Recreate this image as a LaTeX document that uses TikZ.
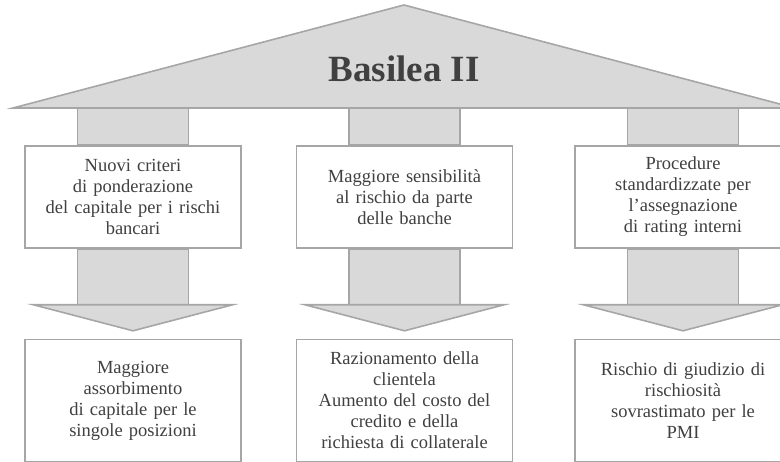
\documentclass[tikz,border=0pt]{standalone}
\usepackage{fontspec}
\setmainfont{Liberation Serif}
\usepackage{tikz}
\usetikzlibrary{positioning, calc, backgrounds}
\usepackage{xcolor}
\definecolor{pillarfill}{HTML}{D9D9D9}
\definecolor{pillarline}{HTML}{A6A6A6}
\definecolor{txtgray}{HTML}{404040}

\begin{document}
\begin{tikzpicture}[
    x=1pt, y=-1pt,
    node distance=90pt,
    box/.style={rectangle, draw=pillarline, fill=white, line width=1.6pt, minimum width=216pt, minimum height=102pt, text width=210pt, inner sep=0pt, align=center, text=txtgray, font=\fontsize{18.5}{21}\selectfont},
    effect/.style={box, minimum height=122pt},
    shaft/.style={draw=pillarline, fill=pillarfill, line width=1.6pt, line join=miter},
    title/.style={text=txtgray, font=\bfseries\fontsize{37}{40}\selectfont}]
\useasboundingbox (0,0) rectangle (780,462);
\coordinate (eaveL) at (13,108);
\coordinate (eaveR) at (795,108);
\coordinate (apex) at (404,5);
\node[box] (t1) at (133,197) {Nuovi criteri\\di ponderazione\\del capitale per i rischi\\bancari};
\node[box] (t2) at (404.5,197) {Maggiore sensibilità\\al rischio da parte\\delle banche};
\node[box] (t3) at (683,197) {Procedure\\standardizzate per\\l’assegnazione\\di rating interni};
\node[effect, below=of t1] (b1) {Maggiore\\assorbimento\\di capitale per le\\singole posizioni};
\node[effect, below=of t2] (b2) {Razionamento della\\clientela\\Aumento del costo del\\credito e della\\richiesta di collaterale};
\node[effect, below=of t3] (b3) {Rischio di giudizio di\\rischiosità\\sovrastimato per le\\PMI};
\foreach \t/\b in {t1/b1, t2/b2, t3/b3} {
    \begin{scope}[on background layer]
        \filldraw[shaft] ($(\t.north)+(-55.5,0)$) rectangle ($(\t.north |- eaveL)+(55.5,0)$);
        \filldraw[shaft] ($(\t.south)+(-55.5,0)$) rectangle ($(\t.south |- \b.north)+(55.5,-34)$);
    \end{scope}
    \filldraw[shaft] ($(\b.north)+(-99.5,-34)$) -- ($(\b.north)+(99.5,-34)$) -- ($(\b.north)+(0,-8)$) -- cycle;
}
\begin{scope}[on background layer]
    \filldraw[shaft] (eaveL) -- (apex) -- (eaveR) -- cycle;
\end{scope}
\node[title] (roof) at (404,68.5) {Basilea II};
\end{tikzpicture}
\end{document}
